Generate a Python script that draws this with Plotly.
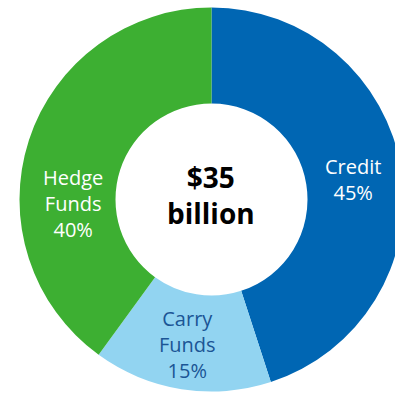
import plotly.graph_objects as go

# Asset mix by strategy (share of $35 billion)
categories = ["Credit", "Carry Funds", "Hedge Funds"]
shares = [45, 15, 40]
label_lines = [["Credit"], ["Carry", "Funds"], ["Hedge", "Funds"]]
center_lines = ["$35", "billion"]

slice_colors = ["#0066B3", "#92D4F1", "#3DAF32"]
text_colors = ["#FFFFFF", "#1B5595", "#FFFFFF"]

W, H = 404, 393
CX, CY, R = 211.5, 199.5, 192

fig = go.Figure(
    go.Pie(
        labels=categories,
        values=shares,
        sort=False,
        direction="clockwise",
        rotation=0,
        hole=0.5,
        marker=dict(colors=slice_colors, line=dict(width=0)),
        textinfo="none",
        hoverinfo="label+percent",
        domain=dict(
            x=[(CX - R) / W, (CX + R) / W],
            y=[(H - CY - R) / H, (H - CY + R) / H],
        ),
    )
)

# label anchor points (px from top-left)
label_pos = [(353, 179.5), (187, 344), (73, 203.5)]

annotations = []
for lines, val, col, (px, py) in zip(label_lines, shares, text_colors, label_pos):
    annotations.append(
        dict(
            text="<br>".join(lines + [f"{val}%"]),
            x=px / W, y=1 - py / H, xref="paper", yref="paper",
            xanchor="center", yanchor="middle", showarrow=False,
            font=dict(family="Open Sans", size=20, color=col),
        )
    )
annotations.append(
    dict(
        text="<b>" + "<br>".join(center_lines) + "</b>",
        x=211 / W, y=1 - 195 / H, xref="paper", yref="paper",
        xanchor="center", yanchor="middle", showarrow=False,
        font=dict(family="Open Sans", size=28, color="#000000"),
    )
)

fig.update_layout(
    width=W, height=H, autosize=False,
    margin=dict(l=0, r=0, t=0, b=0),
    paper_bgcolor="white", plot_bgcolor="white",
    showlegend=False,
    annotations=annotations,
)

fig.write_html(
    "out.html",
    config={"displayModeBar": False},
    post_script="document.documentElement.style.overflow='hidden';document.body.style.overflow='hidden';document.body.style.margin='0';",
)
